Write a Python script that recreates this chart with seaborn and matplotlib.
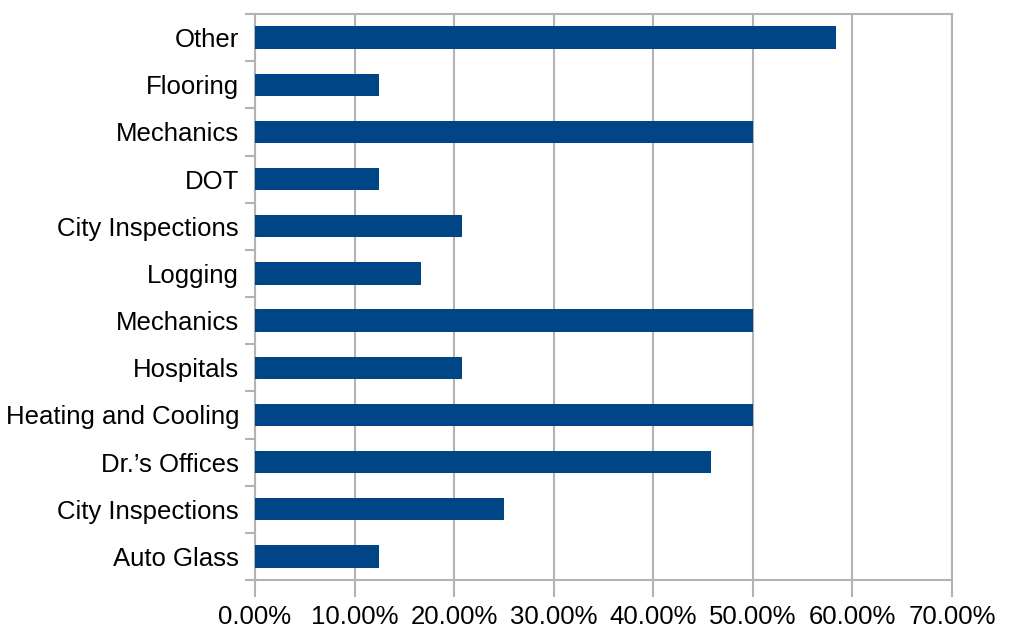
import numpy as np
import pandas as pd
import matplotlib
matplotlib.use("Agg")
import matplotlib.pyplot as plt
import seaborn as sns
from matplotlib.ticker import FixedLocator, PercentFormatter

# ==================== DATA ====================
categories = [
    "Other", "Flooring", "Mechanics", "DOT", "City Inspections", "Logging",
    "Mechanics", "Hospitals", "Heating and Cooling", "Dr.\u2019s Offices",
    "City Inspections", "Auto Glass",
]
shares = [58.33, 12.5, 50.0, 12.5, 20.83, 16.67, 50.0, 20.83, 50.0, 45.83, 25.0, 12.5]
x_ticks = [0, 10, 20, 30, 40, 50, 60, 70]

# ==================== PLOT ====================
sns.set_style("white")
plt.rcParams["font.family"] = ["Liberation Sans", "DejaVu Sans"]

df = pd.DataFrame({"row": range(len(categories)), "share": shares})

fig = plt.figure(figsize=(10.12, 6.32), dpi=100)
ax = fig.add_axes([255 / 1012, 1 - 580 / 632, (952 - 255) / 1012, (580 - 14) / 632])

sns.barplot(data=df, x="share", y="row", orient="h", color="#004586",
            saturation=1, width=0.47, linewidth=0, ax=ax, zorder=3)

grid_c = "#b3b3b3"
ax.set_xlim(0, 70)
ax.set_ylim(len(categories) - 0.5, -0.5)
ax.xaxis.set_major_locator(FixedLocator(x_ticks))
ax.xaxis.set_major_formatter(PercentFormatter(decimals=2))
ax.grid(axis="x", color=grid_c, linewidth=1.5, zorder=0)
ax.set_axisbelow(True)

ax.set_yticks(range(len(categories)))
ax.set_yticklabels(categories)
ax.yaxis.set_minor_locator(FixedLocator(np.arange(-0.5, len(categories), 1.0)))
ax.tick_params(axis="y", which="major", length=0, pad=11.5, labelsize=18.5,
               labelcolor="black")
ax.tick_params(axis="y", which="minor", length=7, color=grid_c, width=1.5, left=True)
ax.tick_params(axis="x", which="major", length=12, color=grid_c, width=1.5,
               pad=6, labelsize=18.5, labelcolor="black", bottom=True)

for side in ["left", "bottom", "top", "right"]:
    ax.spines[side].set_color(grid_c)
    ax.spines[side].set_linewidth(1.5)

ax.set_xlabel("")
ax.set_ylabel("")

fig.savefig("out.png", dpi=100)
